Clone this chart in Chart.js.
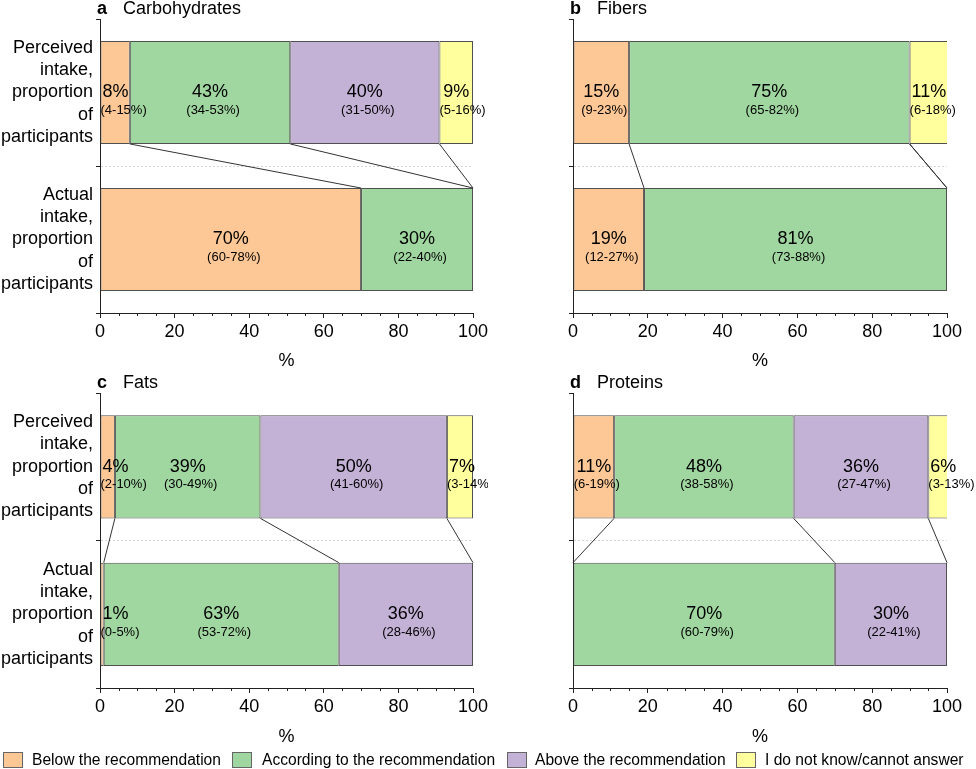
<!DOCTYPE html>
<html lang="en">
<head>
<meta charset="UTF-8" />
<title>Perceived vs actual intake</title>
<script src="https://cdn.jsdelivr.net/npm/chart.js"></script>
<style>
    body {
        margin: 0;
        background: #fff;
        font-family: Arial, "Liberation Sans", sans-serif;
    }

    #page {
        position: relative;
        width: 976px;
        height: 769px;
        overflow: hidden;
    }

    canvas {
        position: absolute;
    }

    .legenda {
        position: absolute;
        top: 752px;
        height: 16px;
        font-size: 15.6px;
        line-height: 16px;
        color: #000;
        white-space: nowrap;
    }

    .legenda span.caixa {
        position: absolute;
        top: 0;
        width: 18px;
        height: 14px;
        border: 1px solid #666;
    }

    .legenda span.texto {
        position: absolute;
        top: 0;
    }
</style>
</head>
<body>
<div id="page">
    <canvas id="chartA" width="488" height="372" style="left:0;top:0"></canvas>
    <canvas id="chartB" width="488" height="372" style="left:488px;top:0"></canvas>
    <canvas id="chartC" width="488" height="378" style="left:0;top:370px"></canvas>
    <canvas id="chartD" width="488" height="378" style="left:488px;top:370px"></canvas>
    <div id="legenda"></div>
</div>

<script>
    const FONT = 'Arial, "Liberation Sans", sans-serif';

    // categories (stack order) and colours
    const categories = ['Below the recommendation', 'According to the recommendation', 'Above the recommendation', 'I do not know/cannot answer'];
    const colors = ['#fdc896', '#a0d6a0', '#c3b1d6', '#ffff9e'];
    const rowLabels = [
        ['Perceived', 'intake,', 'proportion', 'of', 'participants'],
        ['Actual', 'intake,', 'proportion', 'of', 'participants']
    ];
    const xTicks = [0, 20, 40, 60, 80, 100];

    // a Carbohydrates
    const carbPerceived = [8, 43, 40, 9];
    const carbActual = [70, 30, 0, 0];
    const carbPerceivedCI = ['4-15', '34-53', '31-50', '5-16'];
    const carbActualCI = ['60-78', '22-40', '', ''];

    // b Fibers
    const fiberPerceived = [15, 75, 0, 11];
    const fiberActual = [19, 81, 0, 0];
    const fiberPerceivedCI = ['9-23', '65-82', '', '6-18'];
    const fiberActualCI = ['12-27', '73-88', '', ''];

    // c Fats
    const fatPerceived = [4, 39, 50, 7];
    const fatActual = [1, 63, 36, 0];
    const fatPerceivedCI = ['2-10', '30-49', '41-60', '3-14'];
    const fatActualCI = ['0-5', '53-72', '28-46', ''];

    // d Proteins
    const protPerceived = [11, 48, 36, 6];
    const protActual = [0, 70, 30, 0];
    const protPerceivedCI = ['6-19', '38-58', '27-47', '3-13'];
    const protActualCI = ['', '60-79', '22-41', ''];

    Chart.defaults.font.family = FONT;
    Chart.defaults.font.size = 18;
    Chart.defaults.color = '#000';

    // title "a  Carbohydrates" above the plot
    const panelTitle = {
        id: 'panelTitle',
        afterDraw(chart) {
            const t = chart.options.plugins.panelTitle;
            const { ctx, chartArea } = chart;
            ctx.save();
            ctx.fillStyle = '#000';
            ctx.textBaseline = 'alphabetic';
            ctx.textAlign = 'left';
            const x = chartArea.left - 3;
            const y = chartArea.top - 5;
            ctx.font = 'bold 18px ' + FONT;
            ctx.fillText(t.letter, x, y);
            const w = ctx.measureText(t.letter).width;
            ctx.font = '18px ' + FONT;
            ctx.fillText(t.name, x + w + 16, y);
            ctx.restore();
        }
    };

    // series lines between the two bars + value labels
    const barExtras = {
        id: 'barExtras',
        afterDatasetsDraw(chart) {
            const { ctx, chartArea } = chart;
            const xScale = chart.scales.x;
            const sets = chart.data.datasets;

            ctx.save();
            ctx.strokeStyle = '#333';
            ctx.lineWidth = 1;
            let cum0 = 0, cum1 = 0;
            for (let k = 0; k < sets.length - 1; k++) {
                cum0 += sets[k].data[0];
                cum1 += sets[k].data[1];
                const b0 = chart.getDatasetMeta(k).data[0];
                const b1 = chart.getDatasetMeta(k).data[1];
                ctx.beginPath();
                ctx.moveTo(xScale.getPixelForValue(Math.min(cum0, 100)), b0.y + b0.height / 2);
                ctx.lineTo(xScale.getPixelForValue(Math.min(cum1, 100)), b1.y - b1.height / 2);
                ctx.stroke();
            }

            ctx.fillStyle = '#000';
            ctx.textAlign = 'left';
            ctx.textBaseline = 'middle';
            sets.forEach((ds, k) => {
                chart.getDatasetMeta(k).data.forEach((bar, i) => {
                    const v = ds.data[i];
                    if (!v) return;
                    const x0 = Math.min(bar.base, bar.x);
                    const x1 = Math.min(Math.max(bar.base, bar.x), chartArea.right);
                    const cx = (x0 + x1) / 2;

                    ctx.font = '18px ' + FONT;
                    const txt = v + '%';
                    const w = ctx.measureText(txt).width;
                    ctx.fillText(txt, Math.max(cx - w / 2, x0 + 2), bar.y);

                    ctx.font = '13px ' + FONT;
                    const ci = '(' + ds.ci[i] + '%)';
                    const w2 = ctx.measureText(ci).width;
                    ctx.fillText(ci, Math.max(cx + 3 - w2 / 2, x0), bar.y + 18);
                });
            });
            ctx.restore();
        }
    };

    // minor ticks every 5 on the x axis
    const minorTicks = {
        id: 'minorTicks',
        afterDraw(chart) {
            const { ctx, chartArea } = chart;
            const xScale = chart.scales.x;
            ctx.save();
            ctx.strokeStyle = '#222';
            ctx.lineWidth = 1;
            for (let v = 5; v < 100; v += 5) {
                if (v % 20 === 0) continue;
                const px = Math.round(xScale.getPixelForValue(v)) + 0.5;
                ctx.beginPath();
                ctx.moveTo(px, chartArea.bottom);
                ctx.lineTo(px, chartArea.bottom + 3);
                ctx.stroke();
            }
            ctx.restore();
        }
    };

    function makePanel(id, letter, name, perceived, actual, perceivedCI, actualCI, cfg) {
        const datasets = categories.map((cat, k) => ({
            label: cat,
            data: [perceived[k], actual[k]],
            ci: [perceivedCI[k], actualCI[k]],
            backgroundColor: colors[k],
            borderColor: '#505050',
            borderWidth: 1,
            borderSkipped: false,
            barPercentage: 0.7,
            categoryPercentage: 1,
            clip: 0
        }));

        new Chart(document.getElementById(id), {
            type: 'bar',
            data: { labels: rowLabels, datasets: datasets },
            options: {
                indexAxis: 'y',
                responsive: false,
                animation: false,
                devicePixelRatio: 1,
                layout: { padding: { top: cfg.top, right: cfg.right, left: 0, bottom: 0 } },
                plugins: {
                    legend: { display: false },
                    tooltip: { enabled: false },
                    panelTitle: { letter: letter, name: name }
                },
                scales: {
                    x: {
                        stacked: true,
                        min: 0,
                        max: 100,
                        afterBuildTicks: s => { s.ticks = xTicks.map(v => ({ value: v })); },
                        ticks: { padding: 3, color: '#000', font: { size: 18 } },
                        grid: { drawOnChartArea: false, tickLength: 5, tickColor: '#222' },
                        border: { color: '#222' },
                        title: { display: true, text: '%', padding: 0, color: '#000', font: { size: 18 } },
                        afterFit: s => {
                            s.height = cfg.xHeight;
                            s.paddingLeft = 0;
                            s.paddingRight = 0;
                        }
                    },
                    y: {
                        stacked: true,
                        ticks: { display: cfg.labels, padding: 3, color: '#000', font: { size: 18, lineHeight: 1.24 } },
                        grid: {
                            offset: true,
                            tickLength: 4,
                            color: c => c.index === 1 ? '#d4d4d4' : 'rgba(0,0,0,0)',
                            tickColor: '#222'
                        },
                        border: { color: '#222', dash: [2, 2] },
                        afterFit: s => {
                            s.width = cfg.yWidth;
                            s.paddingTop = 0;
                            s.paddingBottom = 0;
                        }
                    }
                }
            },
            plugins: [barExtras, minorTicks, panelTitle]
        });
    }

    makePanel('chartA', 'a', 'Carbohydrates', carbPerceived, carbActual, carbPerceivedCI, carbActualCI,
        { top: 19, right: 15, xHeight: 59, yWidth: 100, labels: true });
    makePanel('chartB', 'b', 'Fibers', fiberPerceived, fiberActual, fiberPerceivedCI, fiberActualCI,
        { top: 19, right: 29, xHeight: 59, yWidth: 85, labels: false });
    makePanel('chartC', 'c', 'Fats', fatPerceived, fatActual, fatPerceivedCI, fatActualCI,
        { top: 23, right: 15, xHeight: 60, yWidth: 100, labels: true });
    makePanel('chartD', 'd', 'Proteins', protPerceived, protActual, protPerceivedCI, protActualCI,
        { top: 23, right: 29, xHeight: 60, yWidth: 85, labels: false });

    // shared legend below the panels
    const legendPos = [[3, 32], [232, 262], [507, 535], [736, 765]];
    const legenda = document.getElementById('legenda');
    categories.forEach((cat, k) => {
        const item = document.createElement('div');
        item.className = 'legenda';
        item.style.left = '0px';
        item.innerHTML = '<span class="caixa" style="left:' + legendPos[k][0] + 'px;background:' + colors[k] + '"></span>' +
            '<span class="texto" style="left:' + legendPos[k][1] + 'px">' + cat + '</span>';
        legenda.appendChild(item);
    });
</script>
</body>
</html>
